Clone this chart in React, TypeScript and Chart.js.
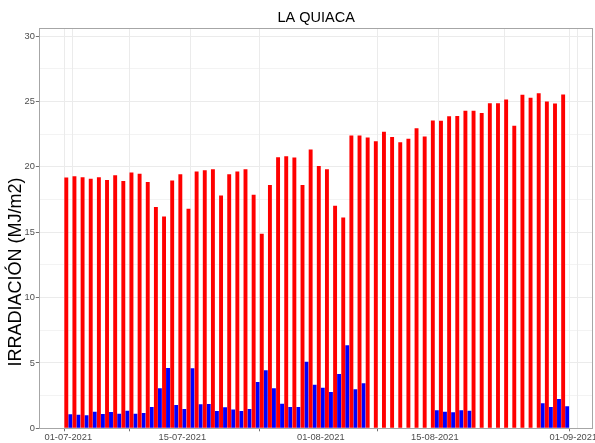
import React, { useEffect, useRef } from 'react';
import { Chart, registerables } from 'chart.js';

Chart.register(...registerables);

const TITLE = 'LA QUIACA';
const Y_TITLE = 'IRRADIACIÓN (MJ/m2)';

// Daily values, 01-07-2021 .. 31-08-2021
const redValues = [
  19.18, 19.28, 19.2, 19.1, 19.2, 19.0, 19.35, 18.92, 19.56, 19.48,
  18.85, 16.93, 16.21, 18.95, 19.43, 16.8, 19.64, 19.74, 19.81, 17.8,
  19.43, 19.64, 19.81, 17.87, 14.88, 18.62, 20.73, 20.81, 20.71, 18.62,
  21.32, 20.07, 19.81, 17.03, 16.13, 22.39, 22.39, 22.24, 21.96, 22.68,
  22.29, 21.88, 22.16, 22.95, 22.32, 23.54, 23.52, 23.87, 23.9, 24.29,
  24.29, 24.13, 24.87, 24.87, 25.15, 23.14, 25.51, 25.28, 25.63, 25.0,
  24.85, 25.53,
];

const blueValues = [
  1.07, 1.04, 1.0, 1.27, 1.1, 1.25, 1.12, 1.35, 1.12, 1.17,
  1.63, 3.06, 4.62, 1.79, 1.48, 4.6, 1.84, 1.86, 1.33, 1.61,
  1.43, 1.33, 1.48, 3.55, 4.44, 3.06, 1.88, 1.63, 1.63, 5.1,
  3.34, 3.11, 2.78, 4.16, 6.36, 2.99, 3.45, null, null, null,
  null, null, null, null, null, 1.38, 1.27, 1.23, 1.38, 1.35,
  null, null, null, null, null, null, null, null, 1.92, 1.63,
  2.24, 1.69,
];

// day offsets from 01-07-2021
const xMajorDays = [0, 14, 31, 45, 62];
const xMajorLabels = ['01-07-2021', '15-07-2021', '01-08-2021', '15-08-2021', '01-09-2021'];
const xMinorDays = [1, 16, 46, 61];

const yMajorTicks = [0, 5, 10, 15, 20, 25, 30];
const yMinorTicks = [2.5, 7.5, 12.5, 17.5, 22.5, 27.5];

const FONT = '"Liberation Sans", Arial, sans-serif';

export default function App() {
  const canvasRef = useRef<HTMLCanvasElement | null>(null);

  useEffect(() => {
    const canvas = canvasRef.current;
    if (!canvas) return;

    const days = redValues.map((_, i) => i);

    const panelPlugin = {
      id: 'panelPlugin',
      afterDatasetsDraw(chart: any) {
        const { ctx, chartArea } = chart;
        ctx.save();
        ctx.strokeStyle = '#a6a6a6';
        ctx.lineWidth = 1;
        ctx.strokeRect(
          Math.round(chartArea.left) + 0.5,
          Math.round(chartArea.top) + 0.5,
          Math.round(chartArea.right - chartArea.left) - 1,
          Math.round(chartArea.bottom - chartArea.top)
        );
        ctx.restore();
      },
      afterDraw(chart: any) {
        const { ctx } = chart;
        ctx.save();
        ctx.font = `18px ${FONT}`;
        ctx.fillStyle = '#000000';
        ctx.textAlign = 'center';
        ctx.textBaseline = 'middle';
        ctx.translate(16, 272);
        ctx.rotate(-Math.PI / 2);
        ctx.fillText(Y_TITLE, 0, 0);
        ctx.restore();
      },
    };

    const chart = new Chart(canvas, {
      type: 'bar',
      data: {
        datasets: [
          {
            label: 'red',
            data: redValues.map((v, i) => ({ x: days[i], y: v })),
            backgroundColor: '#FF0000',
            borderWidth: 0,
            categoryPercentage: 0.98,
            barPercentage: 0.98,
          },
          {
            label: 'blue',
            data: blueValues.map((v, i) => ({ x: days[i], y: v })),
            backgroundColor: '#0000FF',
            borderWidth: 0,
            categoryPercentage: 0.98,
            barPercentage: 0.98,
          },
        ],
      },
      options: {
        animation: false,
        responsive: false,
        devicePixelRatio: 1,
        layout: { padding: { left: 0, right: 2, top: 0, bottom: 0 } },
        plugins: {
          legend: { display: false },
          tooltip: { enabled: false },
          title: {
            display: true,
            text: TITLE,
            fullSize: false,
            color: '#000000',
            font: { family: FONT, size: 14.5, weight: 'normal' },
            padding: { top: 8.8, bottom: 2.1 },
          },
        },
        scales: {
          x: {
            type: 'linear',
            min: -3.56,
            max: 64.42,
            offset: false,
            border: { display: false },
            afterBuildTicks: (scale: any) => {
              scale.ticks = [...xMajorDays, ...xMinorDays]
                .sort((a, b) => a - b)
                .map((v) => ({ value: v }));
            },
            afterFit: (scale: any) => {
              scale.height = 14.7;
              scale.paddingLeft = 0;
              scale.paddingRight = 0;
            },
            grid: {
              color: '#ebebeb',
              lineWidth: 1,
              drawTicks: true,
              tickLength: 3,
              tickColor: (ctx: any) =>
                ctx.tick && xMajorDays.includes(ctx.tick.value) ? '#707070' : 'rgba(0,0,0,0)',
            },
            ticks: {
              autoSkip: false,
              maxRotation: 0,
              minRotation: 0,
              padding: 1,
              color: '#4d4d4d',
              font: { family: FONT, size: 9.3 },
              callback: (value: any) => {
                const i = xMajorDays.indexOf(Number(value));
                return i >= 0 ? xMajorLabels[i] : '';
              },
            },
          },
          y: {
            type: 'linear',
            min: 0,
            max: 30.6,
            border: { display: false },
            afterBuildTicks: (scale: any) => {
              scale.ticks = [...yMajorTicks, ...yMinorTicks]
                .sort((a, b) => a - b)
                .map((v) => ({ value: v }));
            },
            afterFit: (scale: any) => {
              scale.width = 39.3;
              scale.paddingTop = 0;
              scale.paddingBottom = 0;
            },
            grid: {
              color: '#ebebeb',
              lineWidth: (ctx: any) =>
                ctx.tick && yMajorTicks.includes(ctx.tick.value) ? 1 : 0.6,
              drawTicks: true,
              tickLength: 3.5,
              tickColor: (ctx: any) =>
                ctx.tick && yMajorTicks.includes(ctx.tick.value) ? '#707070' : 'rgba(0,0,0,0)',
            },
            ticks: {
              padding: 1,
              color: '#4d4d4d',
              font: { family: FONT, size: 9.3 },
              callback: (value: any) =>
                yMajorTicks.includes(Number(value)) ? String(value) : '',
            },
          },
        },
      } as any,
      plugins: [panelPlugin],
    });

    return () => {
      chart.destroy();
    };
  }, []);

  return (
    <div
      style={{
        position: 'fixed',
        left: 0,
        top: 0,
        width: 595,
        height: 443,
        background: '#ffffff',
      }}
    >
      <canvas ref={canvasRef} width={595} height={443} style={{ width: 595, height: 443 }} />
    </div>
  );
}
